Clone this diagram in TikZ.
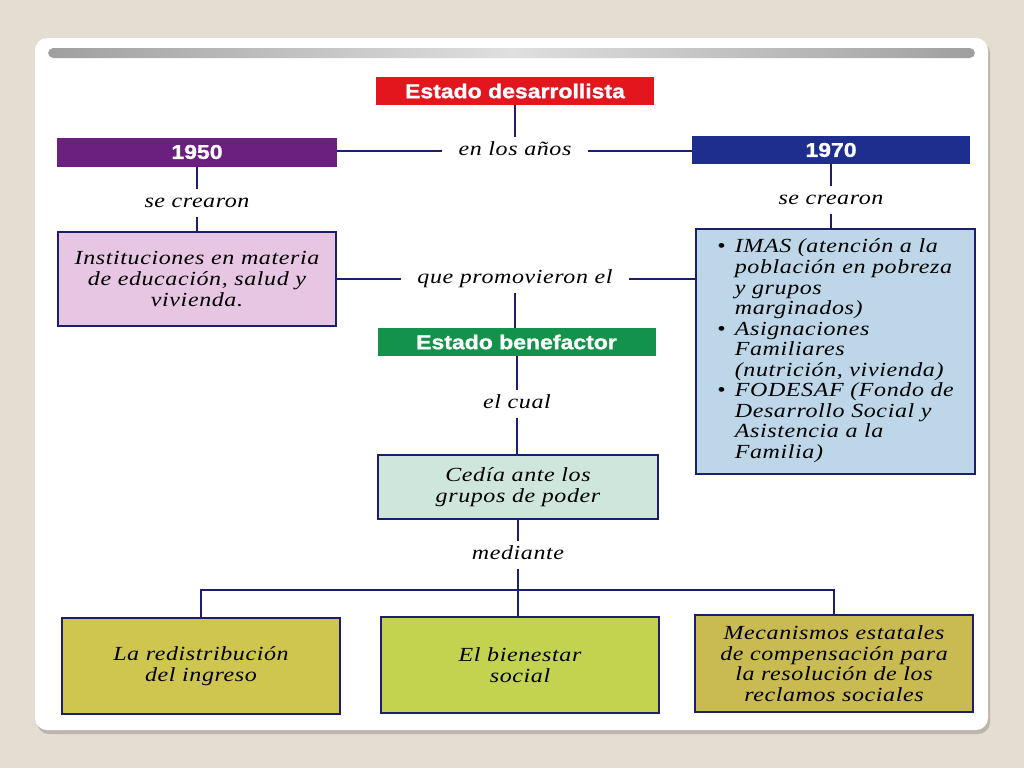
\documentclass[tikz,border=0pt]{standalone}
\usepackage{fontspec}
\usepackage{xcolor}
\setmainfont{Liberation Serif}
\newfontfamily\mapfont{Liberation Serif}[FakeStretch=1.2,LetterSpace=3]
\newfontfamily\headfont{Liberation Sans}[FakeStretch=1.15,FakeBold=1.2]
\definecolor{fondo}{HTML}{E4DDD2}
\definecolor{sombra}{HTML}{BDB5AA}
\definecolor{linea}{HTML}{1C1F6E}
\definecolor{rojo}{HTML}{E3161E}
\definecolor{morado}{HTML}{6B1F7E}
\definecolor{azul}{HTML}{1E2E8E}
\definecolor{verde}{HTML}{12924A}
\definecolor{rosa}{HTML}{E6C6E2}
\definecolor{celeste}{HTML}{BDD6E8}
\definecolor{menta}{HTML}{CFE6DD}
\definecolor{oliva}{HTML}{CEC64E}
\definecolor{pistacho}{HTML}{C3D24F}
\definecolor{ocre}{HTML}{C9BB52}
\begin{document}
\begin{tikzpicture}[x=0.75pt, y=-0.75pt,
    head/.style={fill=#1, text=white, font=\headfont\bfseries\fontsize{15}{18}\selectfont, minimum width=208.5pt, minimum height=21pt, inner sep=0pt},
    caja/.style={draw=linea, line width=1.1pt, fill=#1, font=\mapfont\itshape\fontsize{15}{15.4}\selectfont, align=center, minimum width=208.5pt, inner sep=0pt},
    rotulo/.style={font=\mapfont\itshape\fontsize{15}{15.4}\selectfont, text height=10.5pt, text depth=3.5pt, inner xsep=12pt, inner ysep=3pt},
    enlace/.style={draw=linea, line width=1.4pt}]
      \useasboundingbox (0,0) rectangle (1024,768);
      \fill[fondo] (0,0) rectangle (1024,768);
      \fill[sombra, rounded corners=9pt] (37,41) rectangle (990,734);
      \fill[white, rounded corners=9pt] (35,38) rectangle (988,730);
      \shade[left color=gray!75, right color=gray!75, middle color=gray!25, rounded corners=4pt] (48,48) rectangle (975,58);
      % nodes
      \node[head=rojo] (desa) at (515,91) {Estado desarrollista};
      \node[head=morado, minimum width=210pt, minimum height=21.75pt] (y1950) at (197,152) {1950};
      \node[head=azul] (y1970) at (831,150) {1970};
      \node[rotulo] (enlos) at (515,151) {en los años};
      \node[rotulo] (crea1) at (197,203) {se crearon};
      \node[rotulo] (crea2) at (831,200) {se crearon};
      \node[caja=rosa, minimum height=70.5pt] (inst) at (197,279) {Instituciones en materia\\de educación, salud y\\vivienda.};
      \node[caja=celeste, minimum width=209pt, minimum height=184pt] (imas) at (835.5,351.5) {%
        \begin{tabular}{@{}l@{\hspace{7pt}}l@{}}
          \textbullet & IMAS (atención a la\\
                      & población en pobreza\\
                      & y grupos\\
                      & marginados)\\
          \textbullet & Asignaciones\\
                      & Familiares\\
                      & (nutrición, vivienda)\\
          \textbullet & FODESAF (Fondo de\\
                      & Desarrollo Social y\\
                      & Asistencia a la\\
                      & Familia)
        \end{tabular}};
      \node[rotulo] (prom) at (515,279) {que promovieron el};
      \node[head=verde] (bene) at (516.5,342) {Estado benefactor};
      \node[rotulo] (cual) at (517,404) {el cual};
      \node[caja=menta, minimum width=210pt, minimum height=48pt] (cedia) at (518,487) {Cedía ante los\\grupos de poder};
      \node[rotulo] (medi) at (518,555) {mediante};
      \node[caja=oliva, minimum height=72pt] (redis) at (201,666) {La redistribución\\del ingreso};
      \node[caja=pistacho, minimum height=72pt] (bien) at (520,665) {El bienestar\\social};
      \node[caja=ocre, minimum height=72.75pt] (meca) at (834,663.5) {Mecanismos estatales\\de compensación para\\la resolución de los\\reclamos sociales};
      \coordinate (junc) at (518,590);
      % connectors
      \draw[enlace] (desa) -- (enlos);
      \draw[enlace] (enlos.west) -- (enlos.west -| y1950.east);
      \draw[enlace] (enlos.east) -- (enlos.east -| y1970.west);
      \draw[enlace] (y1950) -- (crea1);
      \draw[enlace] (crea1) -- (inst);
      \draw[enlace] (y1970) -- (crea2);
      \draw[enlace] (crea2) -- (crea2 |- imas.north);
      \draw[enlace] (inst.east) -- (prom.west);
      \draw[enlace] (prom.east) -- (prom.east -| imas.west);
      \draw[enlace] (prom.south) -- (prom.south |- bene.north);
      \draw[enlace] (bene.south -| cual) -- (cual);
      \draw[enlace] (cual) -- (cual |- cedia.north);
      \draw[enlace] (cedia) -- (medi);
      \draw[enlace] (medi) -- (junc);
      \draw[enlace] (junc) -- (junc |- bien.north);
      \draw[enlace] (redis.north) |- (junc) -| (meca.north);
\end{tikzpicture}
\end{document}
